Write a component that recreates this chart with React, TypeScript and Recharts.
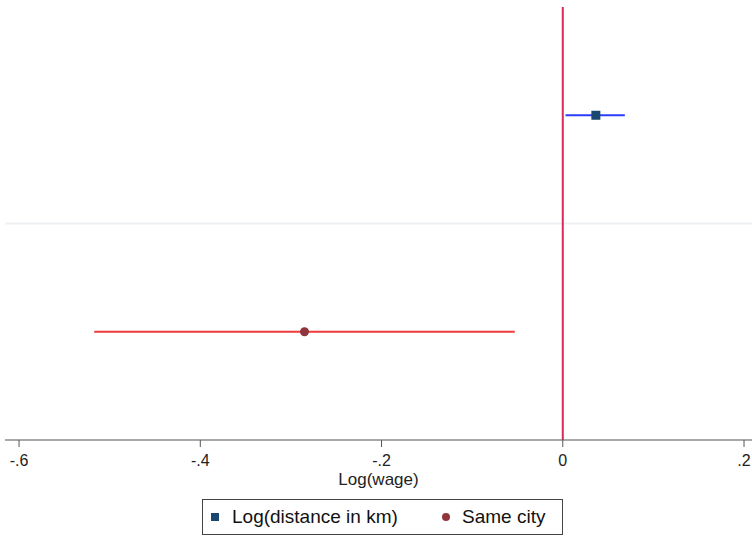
import { ScatterChart, Scatter, XAxis, YAxis, ReferenceLine } from "recharts";

// coefficient estimates with confidence intervals
const groups = ["Log(distance in km)", "Same city"];
const estimates = [0.0365, -0.285];
const ciLow = [0.003, -0.517];
const ciHigh = [0.0685, -0.053];
const rowPos = [3, 1];
const xTicks = [-0.6, -0.4, -0.2, 0, 0.2];

const MARKER_COLORS = ["#1a476f", "#90353b"];
const CI_COLORS = ["#2b3cff", "#f03a3a"];
const FONT = "'Liberation Sans', Arial, sans-serif";

const fmtTick = (v: number) => {
  if (v === 0) return "0";
  const s = String(Math.round(v * 10) / 10);
  return s.replace("0.", ".");
};

const Square = (props: any) => {
  const { cx, cy, fill } = props;
  return <rect x={cx - 4.5} y={cy - 4.5} width={9} height={9} fill={fill} />;
};

const Dot = (props: any) => {
  const { cx, cy, fill } = props;
  return <circle cx={cx} cy={cy} r={4.5} fill={fill} />;
};

const NoShape = () => <g />;

export default function App() {
  const ciData = groups.map((_, i) => [
    { x: ciLow[i], y: rowPos[i] },
    { x: ciHigh[i], y: rowPos[i] },
  ]);
  const pointData = groups.map((_, i) => [{ x: estimates[i], y: rowPos[i] }]);

  return (
    <div style={{ position: "absolute", left: 0, top: 0, width: 752, height: 537, background: "#fff" }}>
      <ScatterChart
        width={752}
        height={537}
        margin={{ top: 7, right: 0, bottom: 52, left: 5 }}
        style={{ fontFamily: FONT }}
      >
        <XAxis
          type="number"
          dataKey="x"
          domain={[-0.6155, 0.2088]}
          ticks={xTicks}
          tickFormatter={fmtTick}
          allowDataOverflow
          height={45}
          tickSize={7}
          tickMargin={8}
          stroke="#555"
          tick={{ fill: "#222", fontSize: 16 }}
          label={{ value: "Log(wage)", position: "insideBottom", offset: 0, fill: "#222", fontSize: 17 }}
        />
        <YAxis type="number" dataKey="y" domain={[0, 4]} hide />
        <ReferenceLine y={2} stroke="#eef1f4" strokeWidth={2} />
        <ReferenceLine x={0} stroke="#d82a5c" strokeWidth={2} />
        {ciData.map((d, i) => (
          <Scatter
            key={`ci-${i}`}
            data={d}
            line={{ stroke: CI_COLORS[i], strokeWidth: 2 }}
            shape={NoShape}
            isAnimationActive={false}
          />
        ))}
        <Scatter data={pointData[0]} fill={MARKER_COLORS[0]} shape={Square} isAnimationActive={false} />
        <Scatter data={pointData[1]} fill={MARKER_COLORS[1]} shape={Dot} isAnimationActive={false} />
      </ScatterChart>
      <div
        style={{
          position: "absolute",
          left: 202,
          top: 499,
          width: 361,
          height: 36,
          border: "1px solid #444",
          fontFamily: FONT,
          fontSize: 19,
          color: "#111",
          boxSizing: "border-box",
        }}
      >
        <span style={{ position: "absolute", left: 8, top: 13, width: 8, height: 8, background: MARKER_COLORS[0] }} />
        <span style={{ position: "absolute", left: 29, top: 6, lineHeight: "22px" }}>{groups[0]}</span>
        <span
          style={{
            position: "absolute",
            left: 239,
            top: 13,
            width: 8,
            height: 8,
            borderRadius: "50%",
            background: MARKER_COLORS[1],
          }}
        />
        <span style={{ position: "absolute", left: 259, top: 6, lineHeight: "22px" }}>{groups[1]}</span>
      </div>
    </div>
  );
}
